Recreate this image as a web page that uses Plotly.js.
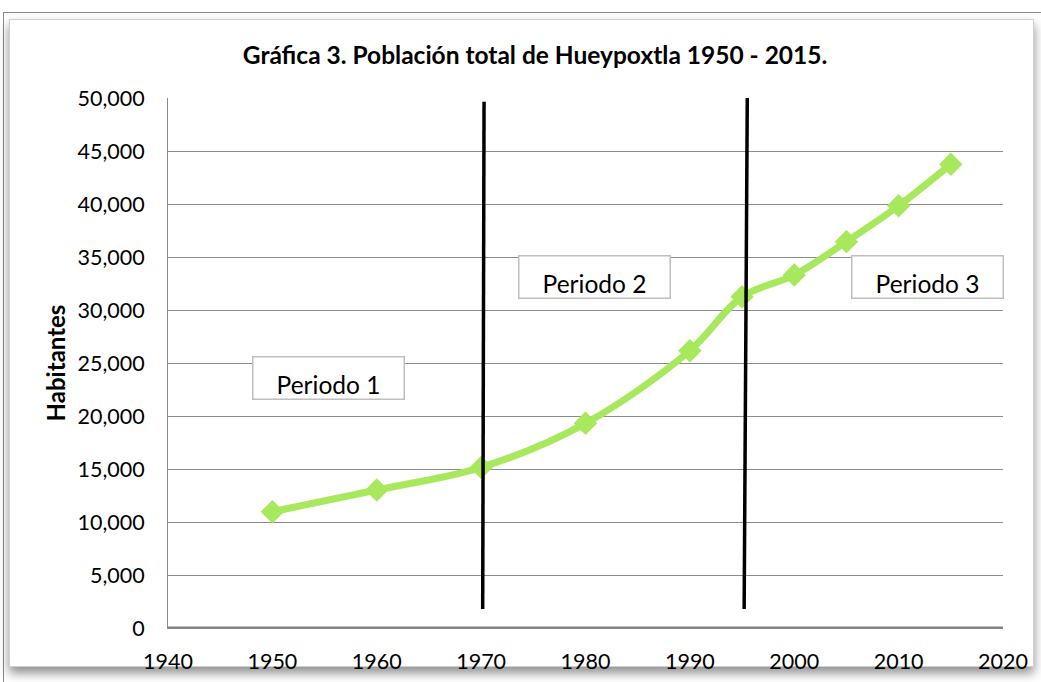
<!DOCTYPE html>
<html>
<head>
<meta charset="utf-8">
<script src="https://cdn.plot.ly/plotly-3.0.1.min.js"></script>
<style>
  html, body { margin: 0; padding: 0; background: #ffffff; }
  #wrap { position: relative; width: 1041px; height: 682px; overflow: hidden; background: #ffffff; }
  #outer { position: absolute; left: 3px; top: 12px; width: 1060px; height: 700px; border: 1px solid #8c8c8c; box-sizing: border-box; }
  #inner { position: absolute; left: 9px; top: 19px; width: 1025px; height: 648px; border: 1px solid #d0d0d0; box-sizing: border-box;
           box-shadow: 0 6px 10px rgba(0,0,0,0.45); background: #ffffff; }
  #chart { position: absolute; left: 0; top: 0; width: 1041px; height: 682px; }
</style>
</head>
<body>
<div id="wrap">
  <div id="outer"></div>
  <div id="inner"></div>
  <div id="chart"></div>
</div>
<script>
// Data
const years = [1950, 1960, 1970, 1980, 1990, 1995, 2000, 2005, 2010, 2015];
const poblacion = [10970, 13020, 15150, 19310, 26160, 31250, 33300, 36450, 39840, 43750];

// Period divider lines (year at bottom/top, population range)
const divisorAnio = [[1970.15, 1970.28], [1995.2, 1995.5]];
const divisorRango = [[1800, 49650], [1800, 50070]];

// Period labels
const periodos = ["Periodo 1", "Periodo 2", "Periodo 3"];
const periodoX = [1955.4, 1980.9, 2012.8];
const periodoY = [23540, 33160, 33110];

const xTicks = [1940, 1950, 1960, 1970, 1980, 1990, 2000, 2010, 2020];
const yTicks = [0, 5000, 10000, 15000, 20000, 25000, 30000, 35000, 40000, 45000, 50000];

const green = '#a8e85c';
const fontFam = 'Lato, "Open Sans", sans-serif';

const trace = {
  x: years,
  y: poblacion,
  type: 'scatter',
  mode: 'lines+markers',
  line: { color: green, width: 7, shape: 'spline', smoothing: 1 },
  marker: { symbol: 'diamond', size: 18, color: green },
  hoverinfo: 'x+y'
};

// bottom edge of the plot area (the 0 gridline)
const shapes = [{
  type: 'line', xref: 'paper', yref: 'paper', x0: 0, x1: 1, y0: 0.001, y1: 0.001,
  layer: 'above', line: { color: '#808080', width: 2 }
}];
divisorAnio.forEach((xs, i) => shapes.push({
  type: 'line', xref: 'x', yref: 'y',
  x0: xs[0], x1: xs[1], y0: divisorRango[i][0], y1: divisorRango[i][1],
  line: { color: '#000000', width: 3.5 }
}));

const annotations = periodos.map((t, i) => ({
  text: t, x: periodoX[i], y: periodoY[i], xref: 'x', yref: 'y',
  xanchor: 'center', yanchor: 'middle', showarrow: false,
  width: 150, height: 41, valign: 'bottom', align: 'center',
  bgcolor: '#ffffff', bordercolor: '#bfbfbf', borderwidth: 1.5, borderpad: 0,
  font: { family: fontFam, size: 24.5, color: '#000000' }
}));

const layout = {
  width: 1041, height: 682,
  margin: { l: 168, r: 38, t: 98, b: 54 },
  paper_bgcolor: 'rgba(0,0,0,0)',
  plot_bgcolor: 'rgba(0,0,0,0)',
  showlegend: false,
  title: {
    text: '<b>Gráfica 3. Población total de Hueypoxtla 1950 - 2015.</b>',
    x: 0.514, xref: 'container', xanchor: 'center',
    y: 0.919, yref: 'container', yanchor: 'middle',
    font: { family: fontFam, size: 24.5, color: '#000000' }
  },
  xaxis: {
    range: [1940, 2020], tickvals: xTicks, ticktext: xTicks.map(String),
    showgrid: false, zeroline: false, showline: true, linecolor: '#8c8c8c', linewidth: 1,
    ticks: '', ticklabelstandoff: 14,
    tickfont: { family: fontFam, size: 21.5, color: '#000000' },
    fixedrange: true
  },
  yaxis: {
    range: [0, 50000], tickvals: yTicks, ticktext: yTicks.map(v => v.toLocaleString('en-US')),
    showgrid: true, gridcolor: '#8c8c8c', gridwidth: 1,
    zeroline: false, showline: true, linecolor: '#8c8c8c', linewidth: 1,
    ticks: 'outside', ticklen: 18, tickcolor: 'rgba(0,0,0,0)',
    tickfont: { family: fontFam, size: 21.5, color: '#000000' },
    title: { text: '<b>Habitantes</b>', standoff: 5, font: { family: fontFam, size: 24, color: '#000000' } },
    fixedrange: true
  },
  shapes: shapes,
  annotations: annotations
};

Plotly.newPlot('chart', [trace], layout, { displayModeBar: false, staticPlot: true });
</script>
</body>
</html>
